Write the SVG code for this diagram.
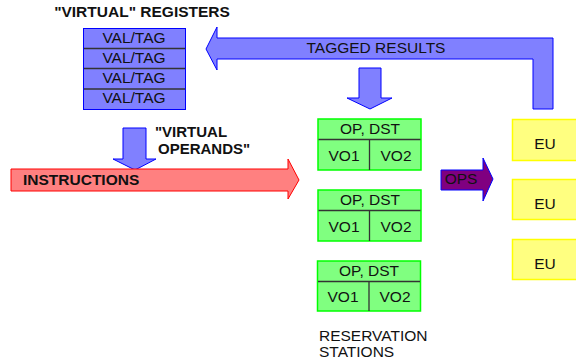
<svg xmlns="http://www.w3.org/2000/svg" width="576" height="362" viewBox="0 0 576 362">
<style>
text{font-family:"Liberation Sans",Arial,sans-serif;font-size:15.5px;fill:#111}
.b{font-weight:bold}
.m{text-anchor:middle}
.s{font-size:15px}
.blue{fill:#8080ff;stroke:#0000ff;stroke-width:1}
.div{stroke:#333;stroke-width:1.3;fill:none}
.grn{fill:#80ff80;stroke:#00ff00;stroke-width:1.5}
.yel{fill:#ffff80;stroke:#ffff00;stroke-width:1.5}
</style>
<rect width="576" height="362" fill="#fff"/>
<g id="connectors">
<polygon class="blue" points="206,49 217,27 217,38 553,38 553,109 533,109 533,59 217,59 217,70"/>
<text class="m" x="376" y="53">TAGGED RESULTS</text>
<polygon class="blue" points="359,68 381,68 381,98 392,98 370,109 347,98 359,98"/>
<polygon class="blue" points="123,128 146,128 146,159 156,159 135,170 113,159 123,159"/>
<text class="b s" x="155" y="137">"VIRTUAL</text>
<text class="b s" x="158" y="154">OPERANDS"</text>
<polygon fill="#ff8080" stroke="#ff0000" stroke-width="1" points="11,169 288,169 288,159 299,180 288,199 288,191 11,191"/>
<text class="b" x="23" y="185">INSTRUCTIONS</text>
<polygon fill="#800080" stroke="#0000ff" stroke-width="1" points="441,170 483,170 483,158 493,179 483,201 483,190 441,190"/>
<text class="m" x="461" y="184">OPS</text>
</g>
<g id="registers">
<text class="b m" x="142" y="17">"VIRTUAL" REGISTERS</text>
<rect class="blue" x="83.5" y="28.5" width="102" height="81"/>
<path class="div" d="M84,48.5H185M84,68.5H185M84,89H185"/>
<text class="m" x="134" y="43">VAL/TAG</text>
<text class="m" x="134" y="63">VAL/TAG</text>
<text class="m" x="134" y="83">VAL/TAG</text>
<text class="m" x="134" y="103">VAL/TAG</text>
</g>
<g id="rs1">
<rect class="grn" x="318" y="119" width="103" height="51"/>
<path class="div" d="M318.5,139.5H420.5M369.5,139.5V170"/>
<text class="m" x="370" y="134">OP, DST</text>
<text class="m" x="344" y="161">VO1</text>
<text class="m" x="396" y="161">VO2</text>
</g>
<g id="rs2">
<rect class="grn" x="318" y="190" width="103" height="51"/>
<path class="div" d="M318.5,210.5H420.5M369.5,210.5V241"/>
<text class="m" x="370" y="205">OP, DST</text>
<text class="m" x="344" y="232">VO1</text>
<text class="m" x="396" y="232">VO2</text>
</g>
<g id="rs3">
<rect class="grn" x="317.5" y="261" width="103" height="50"/>
<path class="div" d="M318,281.5H420M369,281.5V311"/>
<text class="m" x="369" y="276">OP, DST</text>
<text class="m" x="343" y="302">VO1</text>
<text class="m" x="395" y="302">VO2</text>
<text x="319" y="341">RESERVATION</text>
<text x="319" y="357">STATIONS</text>
</g>
<g id="eu1"><rect class="yel" x="512.5" y="119.5" width="70" height="41"/><text class="m" x="545" y="149">EU</text></g>
<g id="eu2"><rect class="yel" x="512.5" y="179.5" width="70" height="40"/><text class="m" x="545" y="209">EU</text></g>
<g id="eu3"><rect class="yel" x="512.5" y="239.5" width="70" height="40"/><text class="m" x="545" y="269">EU</text></g>
</svg>
